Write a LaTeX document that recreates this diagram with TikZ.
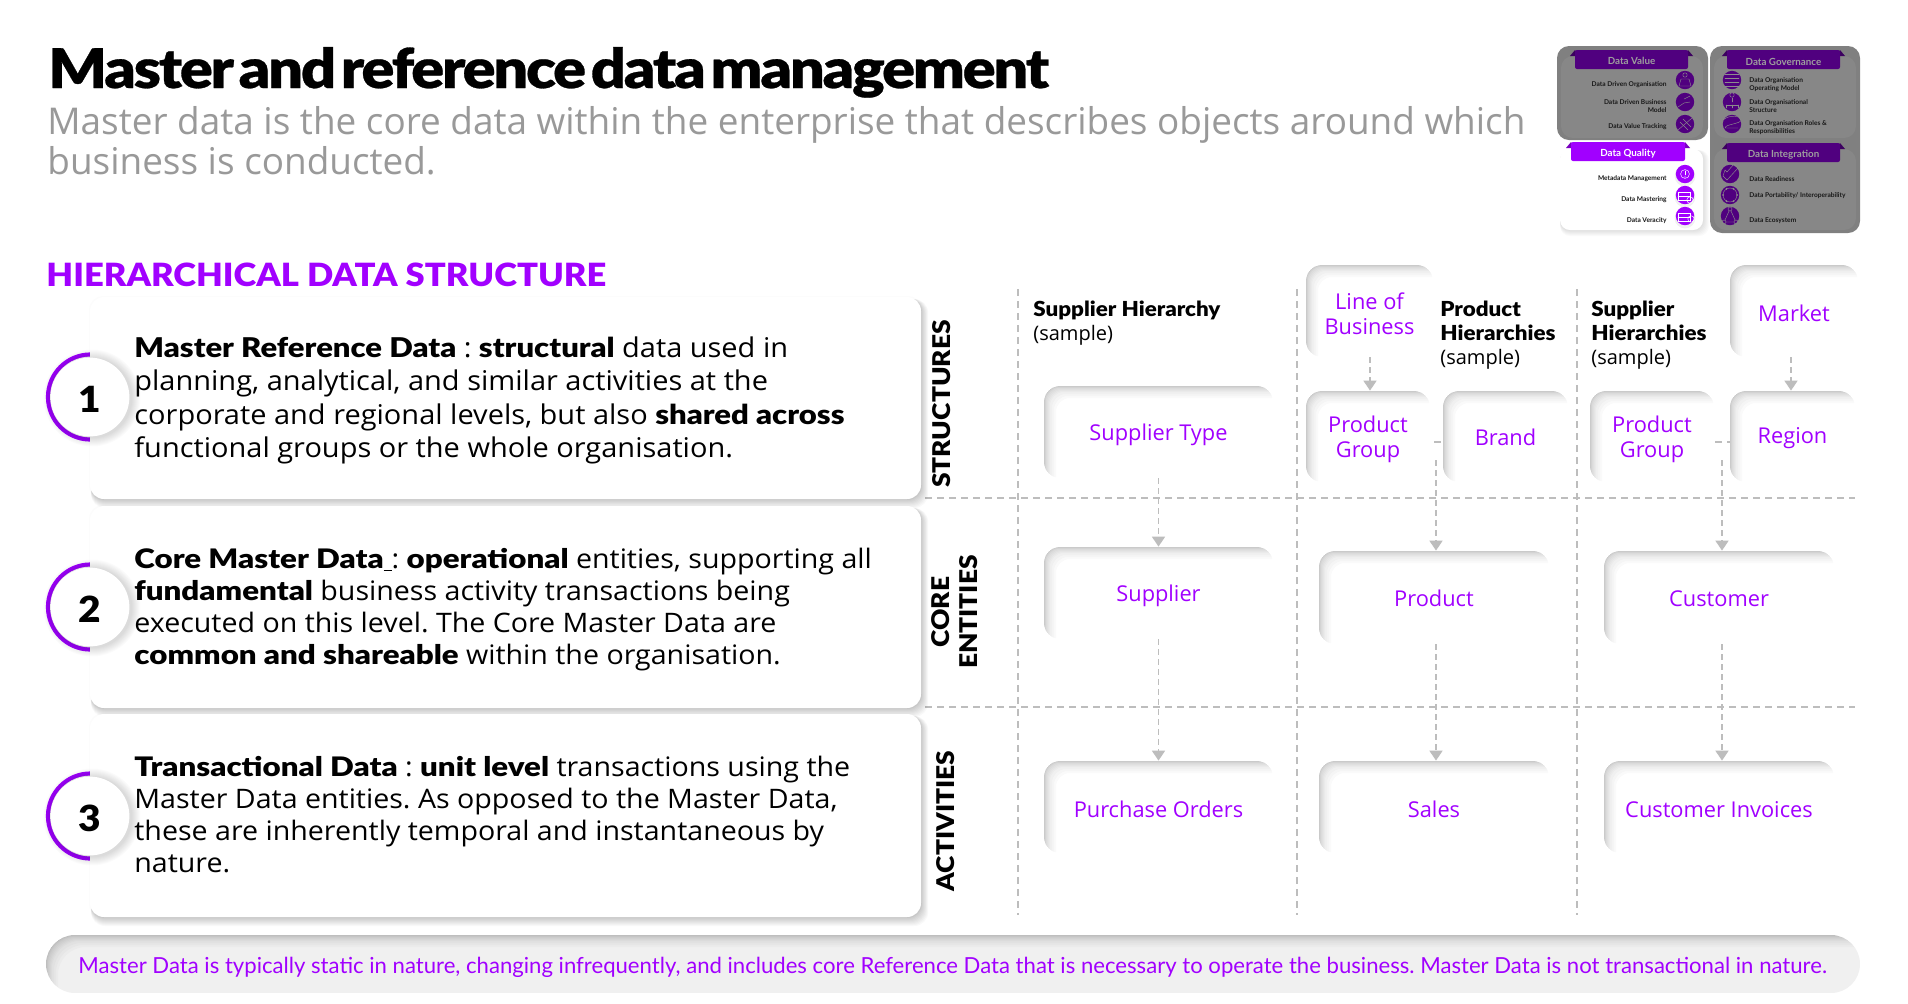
\documentclass[tikz,border=0pt]{standalone}
\usepackage{fontspec}
\usetikzlibrary{arrows.meta}
\setmainfont{Open Sans}
\newfontfamily\bdy[FakeStretch=1.065]{Open Sans}
\newfontfamily\lat{Lato}
\newfontfamily\blk[FakeStretch=1.14]{Lato Black}
\newfontfamily\blkb[FakeStretch=1.165]{Lato Black}
\newfontfamily\blks[FakeStretch=1.08]{Lato Black}
\newfontfamily\ttl[LetterSpace=-4,WordSpace=0.4,FakeStretch=1.12,FakeBold=0.5]{Lato Black}
\newcommand{\bb}[1]{{\blk #1}}
\newcommand{\bc}[1]{{\blkb #1}}
\frenchspacing
\definecolor{acc}{HTML}{A100FF}
\definecolor{dashc}{HTML}{BDBDBD}
\definecolor{dkp}{HTML}{50007F}
\tikzset{
  x=0.5pt,y=-0.5pt,
  boxlabel/.style={inner sep=0pt,align=center,text=acc,font=\fontsize{10.9}{12.5}\selectfont},
  bodytext/.style={anchor=base west,inner sep=0pt,font=\bdy\fontsize{13.6}{16.75}\selectfont},
  bodytextb/.style={anchor=base west,inner sep=0pt,font=\bdy\fontsize{13.42}{16}\selectfont},
  headtext/.style={anchor=base west,inner sep=0pt,font=\fontsize{10}{12}\selectfont},
  rowlabel/.style={rotate=90,inner sep=0pt,font=\blks\fontsize{12.2}{14}\selectfont,align=center},
  gridline/.style={dashc,line width=0.55pt,dash pattern=on 3.4pt off 2.6pt},
  flow/.style={dashc,line width=0.8pt,dash pattern=on 3pt off 2pt,-{Triangle[length=5pt,width=6.5pt]}},
  tinyt/.style={inner sep=0pt,font=\lat\fontsize{3.3}{4}\selectfont\bfseries,text=black!90},
  bandt/.style={inner sep=0pt,font=\lat\fontsize{4.9}{6}\selectfont\bfseries},
  ic/.style={line width=0.22pt,line cap=round}
}
% inner-shadow rounded box with a named label node
\newcommand{\neubox}[6]{%
  \begin{scope}
    \clip[rounded corners=8pt] (#2,#3) rectangle (#4,#5);
    \fill[white] (#2,#3) rectangle (#4,#5);
    \foreach \d in {0.5,1,1.5,2,3,4,5,6,8,10,12}{
      \fill[black,opacity=0.02,even odd rule] (#2-5,#3-5) rectangle (#4+5,#5+5)
        [rounded corners=7pt] (#2+\d,#3+\d) rectangle (#4+30,#5+30);
    }
  \end{scope}
  \node[boxlabel,minimum width={(#4-#2)*0.5pt},minimum height={(#5-#3)*0.5pt}] (#1) at ({(#2+#4)/2},{(#3+#5)/2}) {\rule{0pt}{10.8pt}#6};
}
% white card with a soft drop shadow
\newcommand{\card}[4]{%
  \foreach \d in {1,2,...,9}{
    \fill[black,opacity=0.022,rounded corners=7pt] (#1+1,#2+2) rectangle (#3+\d*0.8,#4+\d);
  }
  \fill[black,opacity=0.012,rounded corners=7pt] (#1-1,#2-1) rectangle (#3+1,#4+1);
  \fill[white,rounded corners=7pt] (#1,#2) rectangle (#3,#4);
}
% numbered ring
\newcommand{\ringback}[1]{%
  \fill[acc] (90.5,#1) circle (22.3pt);
  \fill[white] (90.5,#1) circle (20.2pt);
}
\newcommand{\ringfront}[3]{%
  \foreach \d in {9,8,...,1}{
    \fill[black,opacity=0.016] (92,#2+1) circle ({19.7pt+\d*0.5pt});
  }
  \fill[white] (90,#2) circle (19.7pt);
  \node[inner sep=0pt,font=\blks\fontsize{18}{20}\selectfont] (#3) at (90,#2+2.5) {#1};
}
% thumbnail helpers
\newcommand{\tband}[6]{% x0,y0,x1,y1,fill,text colour+text via #6
  \fill[#5!75!black] (#1-5,#2+6) -- (#1,#2) -- (#1+4,#2+6) -- cycle;
  \fill[#5!75!black] (#3+5,#2+6) -- (#3,#2) -- (#3-4,#2+6) -- cycle;
  \fill[#5,rounded corners=1pt] (#1,#2) rectangle (#3,#4);
  #6
}
\begin{document}
\begin{tikzpicture}
\useasboundingbox (0,0) rectangle (1908,1003);
\fill[white] (0,0) rectangle (1908,1003);

% ---------- titles
\node[anchor=base west,inner sep=0pt,font=\ttl\fontsize{27.3}{30}\selectfont] (title) at (48,88) {Master and reference data management};
\node[anchor=base west,inner sep=0pt,text=black!40,font=\fontsize{18.45}{20}\selectfont] (subtitle) at (47,134)
  {\vtop{\hbox{Master data is the core data within the enterprise that describes objects around which}\hbox{business is conducted.}}};
\node[anchor=base west,inner sep=0pt,text=acc,font=\blks\fontsize{16}{18}\selectfont] (section) at (46,286) {HIERARCHICAL DATA STRUCTURE};

% ---------- grid lines
\coordinate (ga1) at (1018,289); \coordinate (ga2) at (1018,915);
\coordinate (gb1) at (1297,289); \coordinate (gb2) at (1297,915);
\coordinate (gc1) at (1577,289); \coordinate (gc2) at (1577,915);
\coordinate (ha1) at (925,498); \coordinate (ha2) at (1855,498);
\coordinate (hb1) at (925,707); \coordinate (hb2) at (1855,707);
\draw[gridline] (ga1) -- (ga2);
\draw[gridline] (gb1) -- (gb2);
\draw[gridline] (gc1) -- (gc2);
\draw[gridline] (ha1) -- (ha2);
\draw[gridline] (hb1) -- (hb2);

% ---------- left cards
\ringback{397}\ringback{607}\ringback{816}
\card{90}{297}{921}{499}
\card{90}{506}{921}{708}
\card{90}{714}{921}{917}
\ringfront{1}{397}{numa}
\ringfront{2}{607}{numb}
\ringfront{3}{816}{numc}

\node[bodytext] (texta) at (134,357) {\vtop{%
  \hbox{\bb{Master Reference Data} : \bb{structural} data used in}
  \hbox{planning, analytical, and similar activities at the}
  \hbox{corporate and regional levels, but also \bb{shared across}}
  \hbox{functional groups or the whole organisation.}}};
\node[bodytextb] (textb) at (134,568) {\vtop{%
  \hbox{\bc{Core Master Data}\underline{\hspace{0.3em}}: \bc{operational} entities, supporting all}
  \hbox{\bc{fundamental} business activity transactions being}
  \hbox{executed on this level. The Core Master Data are}
  \hbox{\bc{common and shareable} within the organisation.}}};
\node[bodytextb] (textc) at (134,776) {\vtop{%
  \hbox{\bc{Transactional Data} : \bc{unit level} transactions using the}
  \hbox{Master Data entities. As opposed to the Master Data,}
  \hbox{these are inherently temporal and instantaneous by}
  \hbox{nature.}}};

% ---------- row labels
\node[rowlabel] (rowa) at (942,404) {STRUCTURES};
\node[rowlabel] (rowb) at (955,612) {CORE\\ENTITIES};
\node[rowlabel] (rowc) at (946,821) {ACTIVITIES};

% ---------- column headers
\newcommand{\hb}[1]{{\blks\fontsize{10.35}{12}\selectfont #1}}
\node[headtext] (heada) at (1033,316) {\vtop{\hbox{\hb{Supplier Hierarchy}}\hbox{(sample)}}};
\node[headtext] (headb) at (1440,316) {\vtop{\hbox{\hb{Product}}\hbox{\hb{Hierarchies}}\hbox{(sample)}}};
\node[headtext] (headc) at (1591,316) {\vtop{\hbox{\hb{Supplier}}\hbox{\hb{Hierarchies}}\hbox{(sample)}}};

% ---------- hierarchy boxes
\neubox{suptype}{1044}{386}{1273}{478}{Supplier Type}
\neubox{lob}{1306}{265}{1433}{357}{Line of\\Business}
\neubox{pga}{1306}{391}{1430}{482}{Product\\Group}
\neubox{brand}{1443}{391}{1568}{482}{\raisebox{1pt}{Brand}}
\neubox{pgb}{1590}{391}{1714}{482}{Product\\Group}
\neubox{region}{1730}{391}{1855}{482}{\raisebox{1pt}{Region}}
\neubox{market}{1730}{265}{1858}{357}{Market}
\neubox{supplier}{1044}{547}{1273}{639}{Supplier}
\neubox{product}{1319}{551}{1549}{644}{\raisebox{1pt}{Product}}
\neubox{customer}{1604}{551}{1834}{644}{\raisebox{1pt}{Customer}}
\neubox{po}{1044}{761}{1273}{853}{Purchase Orders}
\neubox{sales}{1319}{761}{1549}{853}{Sales}
\neubox{invoices}{1604}{761}{1834}{853}{Customer Invoices}

% ---------- connectors
\coordinate (brandtop) at (1436,460);
\coordinate (custtop) at (1722,460);
\coordinate (lobx) at (1370,357);
\coordinate (marx) at (1791,357);
\coordinate (j1a) at (1434,442); \coordinate (j1b) at (1441,442);
\coordinate (j2a) at (1715,442); \coordinate (j2b) at (1730,442);
\draw[flow] (suptype.south) -- (supplier.north);
\draw[flow] (supplier.south) -- (po.north);
\draw[flow] (lobx) -- (lobx |- pga.north);
\draw[flow] (marx) -- (marx |- region.north);
\draw[gridline] (j1a) -- (j1b);
\draw[gridline] (j2a) -- (j2b);
\draw[flow] (brandtop) -- (brandtop |- product.north);
\draw[flow] (custtop) -- (custtop |- customer.north);
\draw[flow] (brandtop |- product.south) -- (brandtop |- sales.north);
\draw[flow] (custtop |- customer.south) -- (custtop |- invoices.north);

% ---------- bottom bar
\begin{scope}
  \clip[rounded corners=14.5pt] (46,935) rectangle (1860,993);
  \fill[black!6] (46,935) rectangle (1860,993);
  \foreach \d in {0.5,1,1.5,2,3,4,5,6,8,10,12}{
    \fill[black,opacity=0.02,even odd rule] (40,930) rectangle (1870,1000)
      [rounded corners=14pt] (46+\d,935+\d) rectangle (1900,1040);
  }
\end{scope}
\node[anchor=base west,inner sep=0pt,text=acc,font=\lat\fontsize{11.06}{13}\selectfont] (note) at (78,973)
  {Master Data is typically static in nature, changing infrequently, and includes core Reference Data that is necessary to operate the business. Master Data is not transactional in nature.};

% ---------- thumbnail
\fill[black!50,rounded corners=6pt] (1557,46) rectangle (1708,140);
\fill[black!47,rounded corners=6pt] (1561,56) rectangle (1703,138);
\fill[black!50,rounded corners=6pt] (1710,46) rectangle (1860,233);
\fill[black!47,rounded corners=6pt] (1714,56) rectangle (1856,138);
\fill[black!47,rounded corners=6pt] (1714,149) rectangle (1856,230);
\foreach \d in {1,...,6}{\fill[black,opacity=0.02,rounded corners=5pt] (1560,150) rectangle (1703+\d,230+\d);}
\fill[white,rounded corners=5pt] (1560,149) rectangle (1703,230);

\tband{1575}{50}{1688}{69}{dkp}{\node[bandt,text=black!38] (tv) at (1631.5,61) {Data Value};}
\tband{1727}{50}{1840}{69}{dkp}{\node[bandt,text=black!38] (tg) at (1783.5,62) {Data Governance};}
\tband{1727}{143}{1840}{162}{dkp}{\node[bandt,text=black!38] (ti) at (1783.5,154.5) {Data Integration};}
\tband{1571}{142}{1685}{161}{acc}{\node[bandt,text=white] (tq) at (1628,153.5) {Data Quality};}

\node[tinyt,anchor=east] (va) at (1667,85) {Data Driven Organisation};
\node[tinyt,anchor=east,align=right] (vb) at (1667,106) {Data Driven  Business\\Model};
\node[tinyt,anchor=east] (vc) at (1667,127) {Data Value Tracking};
\node[tinyt,anchor=east] (qa) at (1667,179) {Metadata Management};
\node[tinyt,anchor=east] (qb) at (1667,200) {Data Mastering};
\node[tinyt,anchor=east] (qc) at (1667,221) {Data Veracity};
\node[tinyt,anchor=west,align=left] (ga) at (1749,85) {Data Organisation\\Operating Model};
\node[tinyt,anchor=west,align=left] (gb) at (1749,106) {Data Organisational\\Structure};
\node[tinyt,anchor=west,align=left] (gc) at (1749,128) {Data Organisation Roles \&\\Responsibilities};
\node[tinyt,anchor=west] (ia) at (1749,179) {Data Readiness};
\node[tinyt,anchor=west] (ib) at (1749,196) {Data Portability/ Interoperability};
\node[tinyt,anchor=west] (ic) at (1749,221) {Data Ecosystem};

\foreach \x/\y in {1685/80,1685/102,1685/124,1732/80,1732/102,1732/124,1730/174,1730/195,1730/216}{
  \fill[dkp] (\x,\y) circle (4.6pt);
}
\foreach \y in {174,195,216}{
  \fill[black,opacity=0.06] (1685,\y+2) circle (5.2pt);
  \fill[acc] (1685,\y) circle (4.6pt);
}
% icons on the dark discs
\begin{scope}[black!45,ic]
  \draw (1685,75) circle (1.1pt); \draw (1679,86) -- (1681,79) -- (1689,79) -- (1691,86) -- cycle;
  \draw (1678,107) -- (1684,103) -- (1690,102); \draw (1684,99) -- (1690,96);
  \draw (1678,130) -- (1692,118); \draw (1680,122) -- (1688,130); \draw (1683,119) -- (1691,127);
  \draw (1725,74) -- (1739,74) (1725,78) -- (1739,78) (1725,82) -- (1739,82) (1725,86) -- (1739,86);
  \draw (1732,95) circle (1.1pt); \draw (1732,98) -- (1732,102) (1726,105) -- (1738,105) (1726,105) -- (1726,108) (1732,105) -- (1732,108) (1738,105) -- (1738,108);
  \draw (1723,120) .. controls (1730,114) and (1741,116) .. (1741,120) .. controls (1741,124) and (1725,124) .. (1725,128) -- (1738,128);
  \draw (1723,176) -- (1727,180) -- (1738,168) -- (1734,164) -- (1727,172) -- (1725,170) -- cycle;
  \draw (1730,195) circle (3.5pt); \foreach \a in {0,60,...,300}{\fill (1730,195)++(\a:7) circle (0.5pt);}
  \draw (1730,209) circle (1pt) (1724,222) circle (1pt) (1736,222) circle (1pt) (1729,211) -- (1725,220) (1731,211) -- (1735,220) (1726,222) -- (1734,222);
\end{scope}
\begin{scope}[white,ic]
  \draw (1685,174) circle (2.2pt); \draw (1685,171) -- (1685,175); \fill (1685,177) circle (0.3pt);
  \draw (1678,192) rectangle (1690,200); \draw (1678,196) -- (1690,196); \draw (1690,200) circle (1.6pt);
  \draw (1678,213) rectangle (1690,221); \draw (1678,217) -- (1690,217); \draw (1691,219) circle (1.6pt);
\end{scope}
\end{tikzpicture}
\end{document}
